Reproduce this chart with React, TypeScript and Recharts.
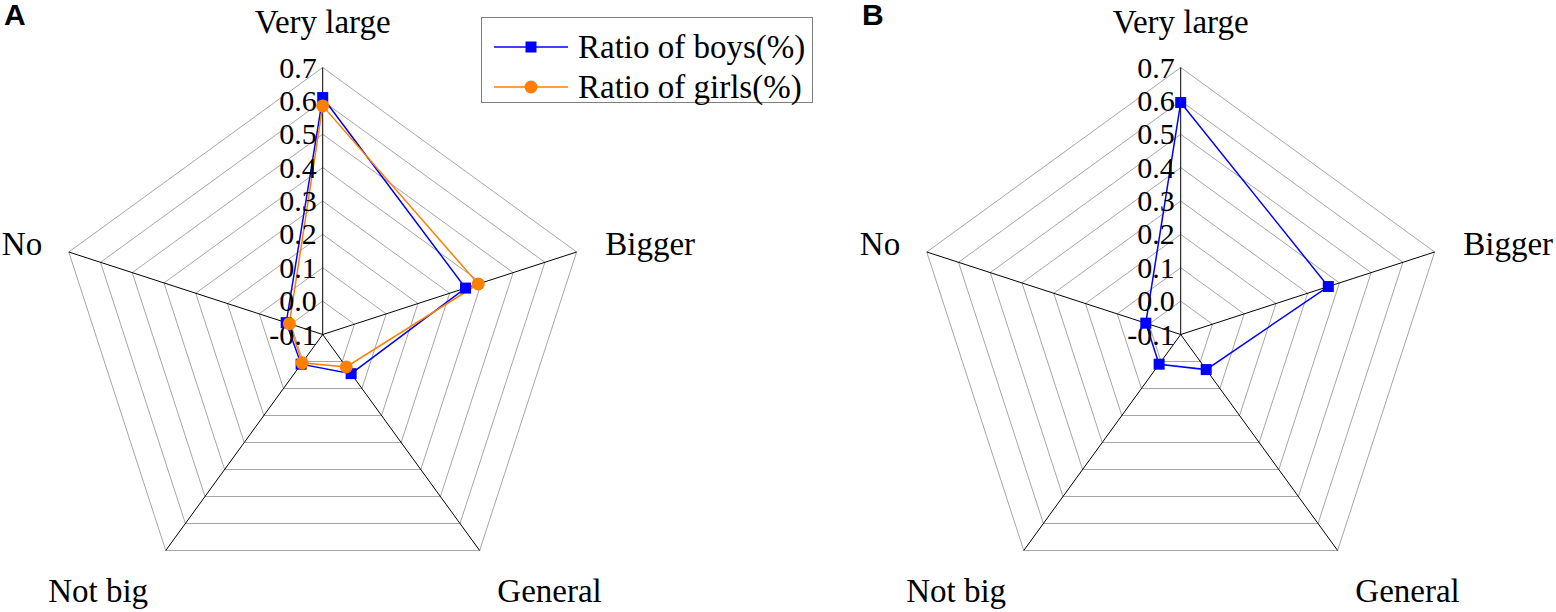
import { RadarChart, Radar, PolarGrid, PolarAngleAxis, PolarRadiusAxis, Legend } from 'recharts';

const categories = ['Very large', 'Bigger', 'General', 'Not big', 'No'];
const boysA = [0.61, 0.35, 0.045, 0.01, 0.015];
const girlsA = [0.585, 0.39, 0.02, 0.005, 0.005];
const boysB = [0.595, 0.365, 0.03, 0.01, 0.01];
const radiusTicks = [-0.1, 0, 0.1, 0.2, 0.3, 0.4, 0.5, 0.6, 0.7];

const dataA = categories.map((c, i) => ({ category: c, boys: boysA[i], girls: girlsA[i] }));
const dataB = categories.map((c, i) => ({ category: c, boys: boysB[i] }));

const BLUE = '#0000FF';
const ORANGE = '#FF7F00';
const GRID = '#A6A6A6';
const SERIF = '"Liberation Serif", "Times New Roman", serif';

const CX = 322.7;
const CY = 334.5;
const R = 267;

// nudges for the spoke labels, clockwise from the top
const labelPos = [
  { dx: 0, dy: -26.5, anchor: 'middle' },
  { dx: 21, dy: 5.5, anchor: 'start' },
  { dx: 13, dy: 44.7, anchor: 'start' },
  { dx: -13, dy: 44.7, anchor: 'end' },
  { dx: -19, dy: 5.5, anchor: 'end' },
];

const renderSquare = (props: any) => (
  <rect
    key={`sq-${props.index}`}
    x={props.cx - 5.5}
    y={props.cy - 5.5}
    width={11}
    height={11}
    fill={BLUE}
  />
);

const renderCircle = (props: any) => (
  <circle key={`ci-${props.index}`} cx={props.cx} cy={props.cy} r={6.5} fill={ORANGE} />
);

const series = {
  boys: { name: 'Ratio of boys(%)', color: BLUE, dot: renderSquare },
  girls: { name: 'Ratio of girls(%)', color: ORANGE, dot: renderCircle },
};

const AngleTick = (props: any) => {
  const pos = labelPos[props.index] || labelPos[0];
  return (
    <text
      x={props.x + pos.dx}
      y={props.y + pos.dy}
      textAnchor={pos.anchor}
      fontFamily={SERIF}
      fontSize={33}
      fill="#000"
    >
      {props.payload.value}
    </text>
  );
};

const RadiusTick = (props: any) => (
  <text x={props.x - 6} y={props.y + 10} textAnchor="end" fontFamily={SERIF} fontSize={30} fill="#000">
    {Number(props.payload.value).toFixed(1)}
  </text>
);

const renderLegend = ({ payload }: any) => (
  <div
    style={{
      width: 332,
      height: 86,
      boxSizing: 'border-box',
      border: '1px solid #7F7F7F',
      background: '#fff',
      paddingTop: 9,
    }}
  >
    {(payload || []).map((entry: any) => {
      const key = entry.dataKey as 'boys' | 'girls';
      return (
        <div key={entry.value} style={{ display: 'flex', alignItems: 'center', height: 40 }}>
          <svg width={96} height={20} style={{ flex: 'none' }}>
            <line x1={12} x2={86} y1={10} y2={10} stroke={entry.color} strokeWidth={1.5} />
            {key === 'boys' ? (
              <rect x={43.5} y={4.5} width={11} height={11} fill={BLUE} />
            ) : (
              <circle cx={49} cy={10} r={6.5} fill={ORANGE} />
            )}
          </svg>
          <span style={{ fontFamily: SERIF, fontSize: 33, lineHeight: '40px', color: '#000', whiteSpace: 'nowrap' }}>
            {entry.value}
          </span>
        </div>
      );
    })}
  </div>
);

function Panel({ letter, left, width, data, keys, legend }: any) {
  return (
    <div style={{ position: 'absolute', left, top: 0, width, height: 612 }}>
      <RadarChart
        width={width}
        height={612}
        data={data}
        cx={CX}
        cy={CY}
        outerRadius={R}
        margin={{ top: 0, right: 0, bottom: 0, left: 0 }}
      >
        <PolarGrid gridType="polygon" radialLines={false} stroke={GRID} strokeWidth={1} />
        <PolarGrid gridType="polygon" polarRadius={[]} stroke="#000" strokeWidth={1} />
        <PolarAngleAxis dataKey="category" tick={AngleTick} tickLine={false} axisLine={false} />
        <PolarRadiusAxis
          type="number"
          angle={90}
          domain={[-0.1, 0.7]}
          allowDataOverflow
          allowDecimals
          ticks={radiusTicks}
          tickCount={9}
          axisLine={false}
          tickLine={false}
          tick={RadiusTick}
        />
        {keys.map((k: 'boys' | 'girls') => (
          <Radar
            key={k}
            dataKey={k}
            name={series[k].name}
            stroke={series[k].color}
            strokeWidth={1.5}
            fill="none"
            dot={series[k].dot}
            isAnimationActive={false}
          />
        ))}
        {legend && (
          <Legend
            layout="vertical"
            align="center"
            verticalAlign="middle"
            content={renderLegend}
            wrapperStyle={{ left: 481, top: 17, width: 'auto', height: 'auto' }}
          />
        )}
      </RadarChart>
      <div
        style={{
          position: 'absolute',
          left: 4,
          top: 0,
          fontFamily: '"Liberation Sans", Arial, sans-serif',
          fontWeight: 'bold',
          fontSize: 30,
          lineHeight: '30px',
          color: '#000',
        }}
      >
        {letter}
      </div>
    </div>
  );
}

export default function App() {
  return (
    <div
      style={{
        position: 'absolute',
        left: 0,
        top: 0,
        width: 1556,
        height: 612,
        background: '#fff',
        overflow: 'hidden',
      }}
    >
      <Panel letter="A" left={0} width={858} data={dataA} keys={['boys', 'girls']} legend />
      <Panel letter="B" left={858} width={698} data={dataB} keys={['boys']} />
    </div>
  );
}
